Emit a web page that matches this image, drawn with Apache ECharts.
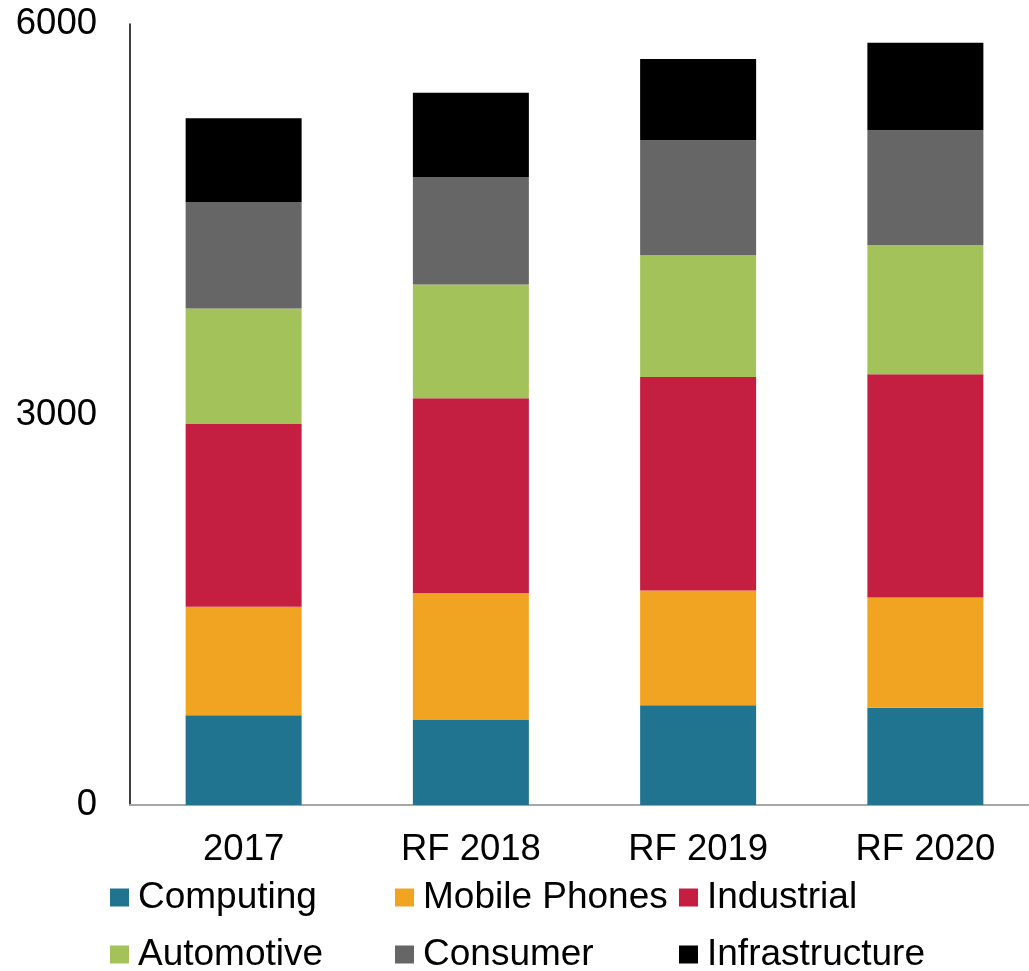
<!DOCTYPE html>
<html>
<head>
<meta charset="utf-8">
<script src="https://cdn.jsdelivr.net/npm/echarts@6/dist/echarts.min.js"></script>
<style>
html,body{margin:0;padding:0;background:#fff;overflow:hidden;}
#chart{width:1045px;height:971px;}
</style>
</head>
<body>
<div id="chart"></div>
<script>
const categories = ['2017', 'RF 2018', 'RF 2019', 'RF 2020'];
const yTicks = [0, 3000, 6000];
const computing = [690, 657, 767, 747];
const mobilePhones = [834, 971, 880, 848];
const industrial = [1403, 1497, 1642, 1715];
const automotive = [888, 874, 935, 993];
const consumer = [817, 825, 882, 880];
const infrastructure = [643, 648, 625, 673];

const seriesNames = ['Computing', 'Mobile Phones', 'Industrial', 'Automotive', 'Consumer', 'Infrastructure'];
const seriesData = [computing, mobilePhones, industrial, automotive, consumer, infrastructure];
const colors = ['#21748F', '#F1A421', '#C41F41', '#A3C35A', '#666666', '#000000'];

const FONT = 'Arial, "Liberation Sans", sans-serif';
const legendPos = [
  {left: 110, top: 879}, {left: 395, top: 879}, {left: 679, top: 879},
  {left: 110, top: 936}, {left: 395, top: 936}, {left: 679, top: 936}
];

const chart = echarts.init(document.getElementById('chart'), null, {renderer: 'canvas'});
chart.setOption({
  animation: false,
  backgroundColor: '#ffffff',
  color: colors,
  grid: {left: 130, top: 24, width: 909, height: 781, containLabel: false},
  legend: seriesNames.map((n, i) => ({
    data: [n],
    left: legendPos[i].left,
    top: legendPos[i].top,
    padding: 0,
    icon: 'rect',
    itemWidth: 19,
    itemHeight: 18,
    selectedMode: false,
    textStyle: {fontSize: 37, color: '#000', fontFamily: FONT, lineHeight: 37, padding: [0, 0, 0, 4]}
  })),
  xAxis: {
    type: 'category',
    data: categories,
    axisLine: {show: true, lineStyle: {color: '#a6a6a6', width: 2}},
    axisTick: {show: false},
    axisLabel: {fontSize: 36.5, color: '#000', fontFamily: FONT, margin: 27, lineHeight: 36}
  },
  yAxis: {
    type: 'value',
    min: yTicks[0],
    max: yTicks[yTicks.length - 1],
    interval: yTicks[1] - yTicks[0],
    splitLine: {show: false},
    axisLine: {show: true, lineStyle: {color: '#000', width: 1.5}},
    axisTick: {show: false},
    axisLabel: {fontSize: 36.5, color: '#000', fontFamily: FONT, margin: 33, formatter: v => String(v)}
  },
  series: seriesNames.map((n, i) => ({
    name: n,
    type: 'bar',
    stack: 'total',
    barWidth: 116,
    data: seriesData[i],
    itemStyle: {color: colors[i]}
  }))
});
</script>
</body>
</html>
